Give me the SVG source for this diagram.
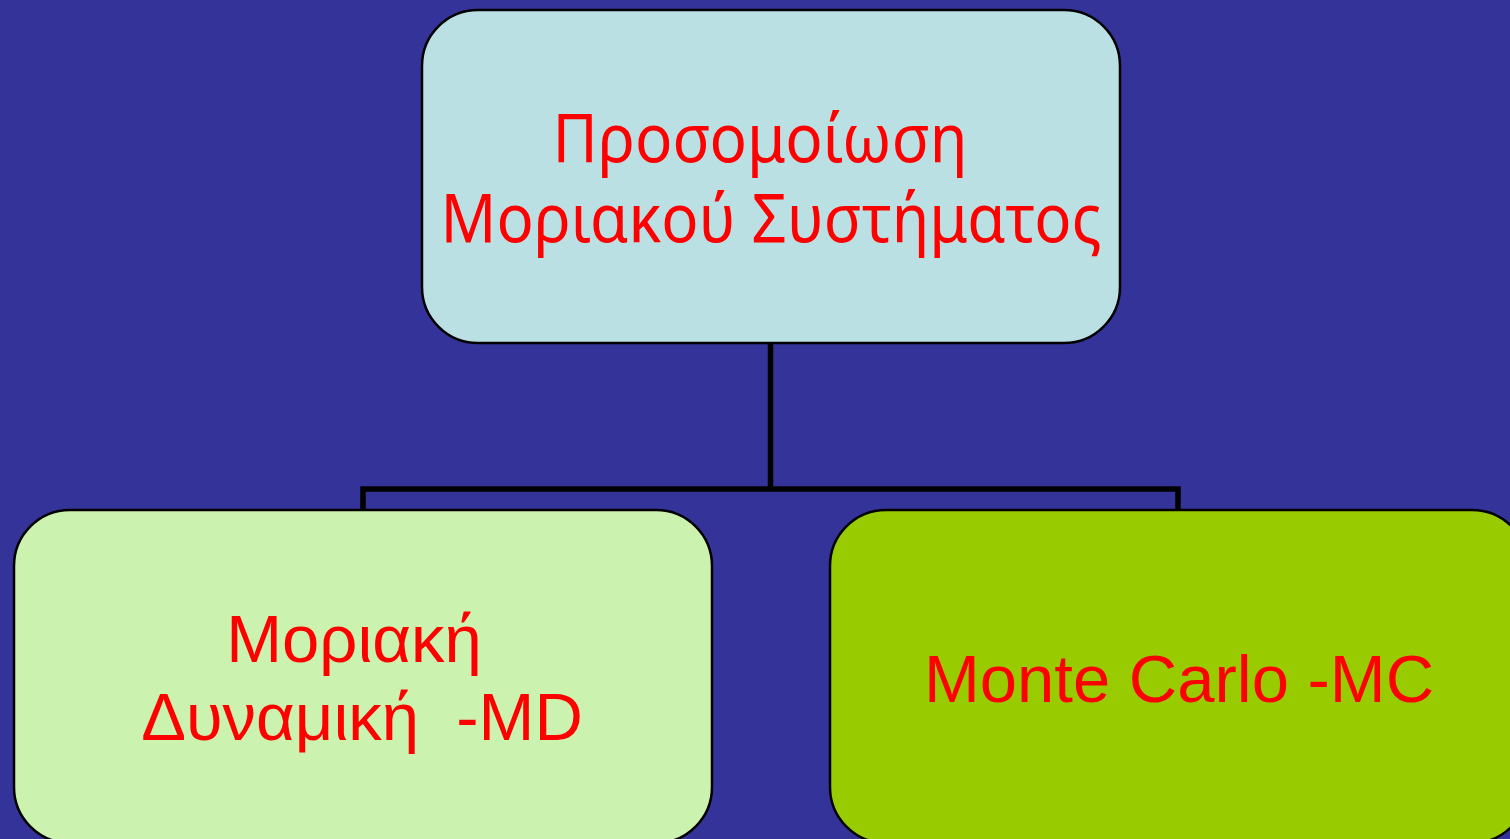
<svg xmlns="http://www.w3.org/2000/svg" width="1510" height="839" viewBox="0 0 1510 839">
<style>
.box{stroke:#000;stroke-width:2.5}
.t{fill:#FF0000;font-family:"Liberation Sans",Arial,sans-serif;font-size:67px;text-anchor:middle}
.tc{fill:#FF0000;font-family:"Noto Sans","DejaVu Sans",sans-serif;font-size:68px;text-anchor:middle}
.conn{stroke:#000;stroke-width:5.5;fill:none}
</style>
<rect width="1510" height="839" fill="#333399"/>
<g id="connectors">
<path class="conn" d="M770.5 343 V489 M363 511 V489 H1178 V511"/>
</g>
<g id="node-top">
<rect class="box" x="422" y="10" width="698" height="333" rx="56" fill="#BBE0E3"/>
<text class="tc" x="760" y="162" textLength="415" lengthAdjust="spacingAndGlyphs">Προσομοίωση</text>
<text class="tc" x="771" y="242" textLength="661" lengthAdjust="spacingAndGlyphs">Μοριακού Συστήματος</text>
</g>
<g id="node-md">
<rect class="box" x="14" y="510" width="698" height="333" rx="56" fill="#CCF2B0"/>
<text class="t" x="354" y="662">Μοριακή</text>
<text class="t" x="362" y="740" xml:space="preserve">Δυναμική  -MD</text>
</g>
<g id="node-mc">
<rect class="box" x="830" y="510" width="698" height="333" rx="56" fill="#99CC00"/>
<text class="t" x="1179" y="702" font-size="68">Monte Carlo -MC</text>
</g>
</svg>
